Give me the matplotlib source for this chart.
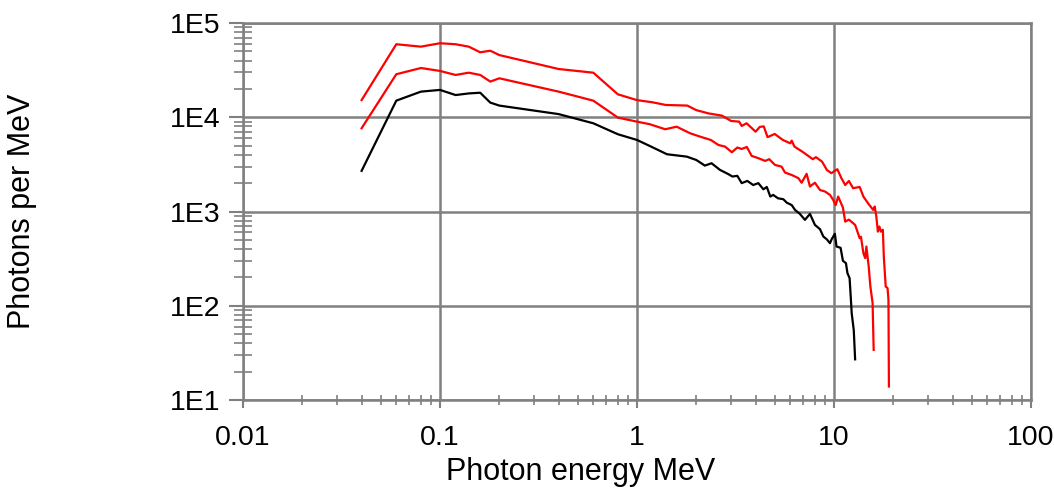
import matplotlib.pyplot as plt
from matplotlib.ticker import FixedLocator, FixedFormatter, LogLocator, NullFormatter

plt.rcParams["font.family"] = ["Liberation Sans", "DejaVu Sans"]

# photon spectra (MeV, photons per MeV)
energy_upper = [0.04, 0.06, 0.08, 0.10, 0.12, 0.14, 0.16, 0.18, 0.20, 0.40, 0.60, 0.80,
                1.00, 1.20, 1.40, 1.80, 2.0, 2.3, 2.7, 3.0, 3.3, 3.4, 3.6, 4.0, 4.2,
                4.4, 4.6, 5.0, 5.5, 6.0, 6.1, 6.3, 6.9, 7.4, 7.8, 8.1, 8.7, 9.2, 9.7,
                10.4, 10.9, 11.4, 11.9, 12.5, 13.5, 14.1, 14.9, 15.8, 16.1, 16.4, 16.7,
                17.0, 17.3, 17.7, 17.9, 18.3, 18.7, 18.9, 19.0]
counts_upper = [15200, 59500, 56100, 61000, 59500, 56100, 48900, 50800, 45700, 32500,
                29700, 17500, 15200, 14400, 13500, 13300, 11900, 11000, 10400, 9140,
                8980, 8090, 8630, 7030, 7900, 8000, 6150, 6650, 5740, 5290, 5650, 4880,
                4320, 3890, 3590, 3770, 3380, 2760, 2550, 2810, 2260, 1910, 2110, 1770,
                1820, 1440, 1220, 1040, 1130, 883, 612, 692, 612, 640, 333, 160, 154,
                116, 13.9]

energy_middle = [0.04, 0.06, 0.08, 0.10, 0.12, 0.14, 0.16, 0.18, 0.20, 0.40, 0.60, 0.80,
                 1.00, 1.16, 1.39, 1.59, 1.86, 2.09, 2.37, 2.59, 2.80, 3.03, 3.23, 3.40,
                 3.61, 3.82, 4.13, 4.47, 4.69, 5.02, 5.42, 5.64, 6.1, 6.59, 6.85, 7.26,
                 7.55, 8.0, 8.49, 9.0, 9.54, 9.9, 10.2, 10.5, 11.1, 11.4, 11.9, 12.8,
                 13.5, 13.7, 14.1, 14.4, 14.6, 15.0, 15.3, 15.7, 15.9]
counts_middle = [7640, 28600, 33300, 31000, 28100, 29700, 28100, 23900, 25900, 18700,
                 15000, 9910, 8980, 8440, 7460, 7940, 6760, 6230, 5740, 5080, 4880, 4250,
                 4770, 4610, 4840, 3890, 3680, 3440, 3590, 3120, 2990, 2590, 2440, 2260,
                 2020, 2510, 1840, 2020, 1690, 1630, 1500, 1330, 1170, 1440, 1100, 781,
                 820, 721, 521, 540, 361, 320, 425, 261, 160, 107, 34]

energy_lower = [0.04, 0.06, 0.08, 0.10, 0.12, 0.14, 0.16, 0.18, 0.20, 0.40, 0.60, 0.80,
                1.00, 1.16, 1.42, 1.79, 2.00, 2.21, 2.39, 2.64, 2.91, 3.05, 3.23, 3.40,
                3.63, 3.89, 4.13, 4.38, 4.56, 4.75, 4.91, 5.2, 5.53, 5.76, 6.1, 6.34,
                6.71, 7.12, 7.55, 8.0, 8.49, 8.83, 9.18, 9.54, 9.73, 10.1, 10.3, 10.8,
                11.1, 11.5, 11.7, 12.0, 12.1, 12.3, 12.6, 12.8]
counts_lower = [2700, 15000, 18700, 19500, 17200, 17900, 18200, 14300, 13300, 10800,
                8630, 6600, 5740, 4960, 4050, 3820, 3520, 3070, 3250, 2760, 2490, 2350,
                2390, 2000, 2110, 1910, 2000, 1720, 1820, 1440, 1500, 1380, 1350, 1240,
                1170, 1040, 944, 815, 944, 721, 649, 542, 508, 461, 508, 580, 425, 412,
                300, 283, 222, 196, 148, 83, 55, 27]

x_ticks = [0.01, 0.1, 1, 10, 100]
x_labels = ["0.01", "0.1", "1", "10", "100"]
y_ticks = [1e1, 1e2, 1e3, 1e4, 1e5]
y_labels = ["1E1", "1E2", "1E3", "1E4", "1E5"]

GRAY = "#808080"

fig = plt.figure(figsize=(10.54, 4.93), dpi=100)
ax = fig.add_axes([243 / 1054, 1 - 400 / 493, 788 / 1054, 377 / 493])

ax.plot(energy_upper, counts_upper, color="#ff0000", lw=1.6)
ax.plot(energy_middle, counts_middle, color="#ff0000", lw=1.6)
ax.plot(energy_lower, counts_lower, color="black", lw=1.6)

ax.set_xscale("log")
ax.set_yscale("log")
ax.set_xlim(0.01, 100)
ax.set_ylim(10, 1e5)

ax.xaxis.set_major_locator(FixedLocator(x_ticks))
ax.xaxis.set_major_formatter(FixedFormatter(x_labels))
ax.yaxis.set_major_locator(FixedLocator(y_ticks))
ax.yaxis.set_major_formatter(FixedFormatter(y_labels))
for axis in (ax.xaxis, ax.yaxis):
    axis.set_minor_locator(LogLocator(base=10, subs=range(2, 10), numticks=20))
    axis.set_minor_formatter(NullFormatter())

ax.grid(True, which="major", color=GRAY, lw=1.8)
ax.set_axisbelow(True)
for s in ax.spines.values():
    s.set_color(GRAY)
    s.set_linewidth(1.8)

ax.tick_params(axis="x", which="major", direction="out", length=6, width=1.5,
               color=GRAY, labelsize=20.5, pad=12)
ax.tick_params(axis="x", which="minor", direction="inout", length=7, width=1.2,
               color=GRAY)
ax.tick_params(axis="y", which="major", direction="out", length=10, width=1.5,
               color=GRAY, labelsize=20.5, pad=6)
ax.tick_params(axis="y", which="minor", direction="inout", length=13, width=1.2,
               color=GRAY)

ax.set_xlabel("Photon energy MeV", fontsize=22)
ax.xaxis.set_label_coords(0.428, -0.15)
ax.set_ylabel("Photons per MeV", fontsize=22)
ax.yaxis.set_label_coords(-0.262, 0.5)

fig.savefig("out.png", dpi=100)
